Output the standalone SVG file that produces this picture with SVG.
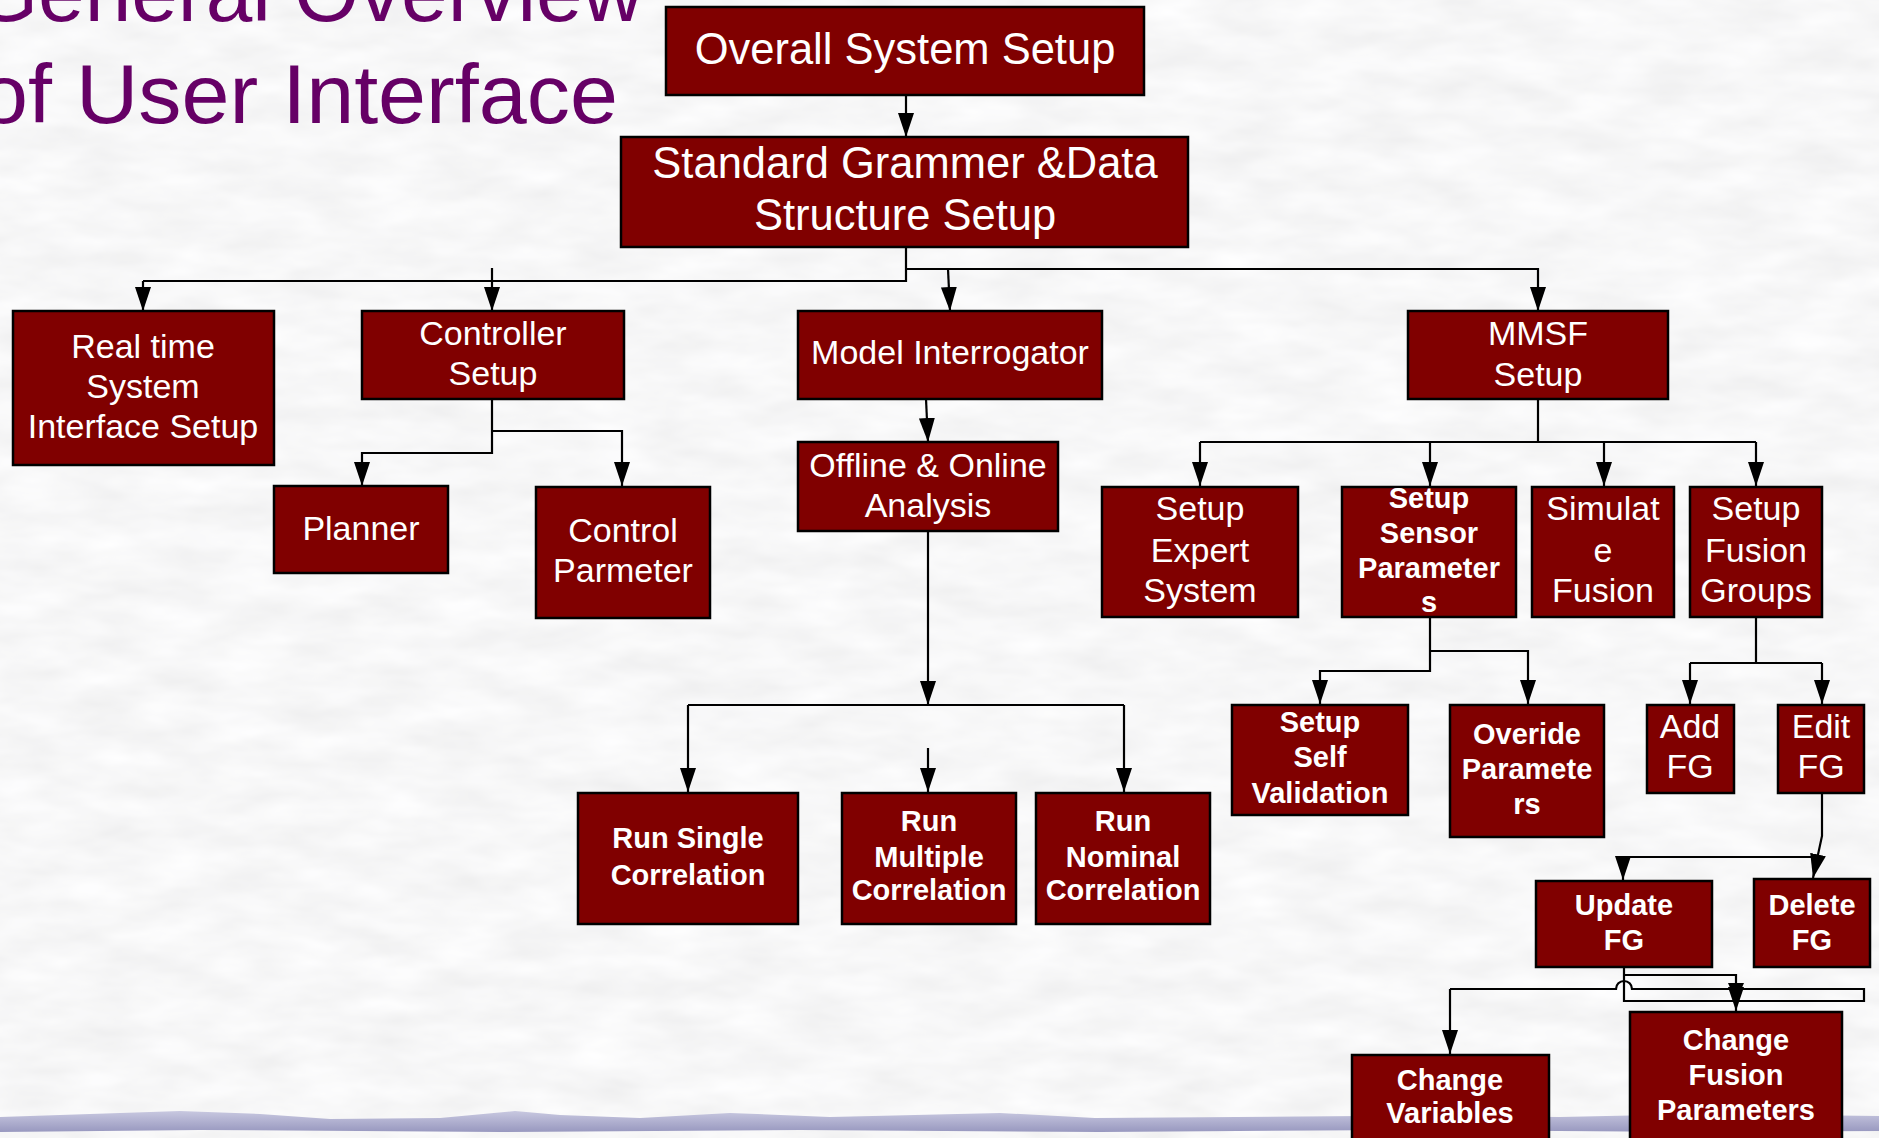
<svg xmlns="http://www.w3.org/2000/svg" width="1879" height="1138" viewBox="0 0 1879 1138">
  <defs>
    <filter id="paper" x="0" y="0" width="100%" height="100%">
      <feTurbulence type="fractalNoise" baseFrequency="0.014 0.04" numOctaves="3" seed="7" result="n"/>
      <feColorMatrix in="n" type="matrix" values="0.16 0 0 0 0.85  0.16 0 0 0 0.85  0.16 0 0 0 0.855  0 0 0 0 1"/>
    </filter>
    <linearGradient id="band" x1="0" y1="0" x2="0" y2="1">
      <stop offset="0" stop-color="#c8c8e0"/>
      <stop offset="1" stop-color="#9898bf"/>
    </linearGradient>
    <marker id="ah" viewBox="0 0 24 16" refX="24" refY="8" markerWidth="24" markerHeight="16" markerUnits="userSpaceOnUse" orient="auto">
      <path d="M0,0 L24,8 L0,16 Z" fill="#000"/>
    </marker>
    <style>
      .box { fill:#800000; stroke:#000; stroke-width:2.5; }
      .t { font-family:"Liberation Sans", Arial, sans-serif; fill:#fff; text-anchor:middle; }
      .big { font-size:43.5px; }
      .n { font-size:34px; }
      .b { font-size:29px; font-weight:bold; }
      .ln { fill:none; stroke:#000; stroke-width:2.2; }
      .arr { marker-end:url(#ah); }
      .title { font-family:"Liberation Sans", Arial, sans-serif; font-size:84px; fill:#660066; }
    </style>
  </defs>

  <!-- textured paper background -->
  <rect x="0" y="0" width="1879" height="1138" fill="#eeeeee"/>
  <rect x="0" y="0" width="1879" height="1138" filter="url(#paper)"/>

  <!-- wavy band along the bottom edge -->
  <path d="M0,1117 L60,1115 L180,1111 L260,1114 L330,1119 L440,1118 L515,1111 L560,1115 L640,1118 L730,1113 L830,1117 L1000,1113 L1095,1118 L1360,1116 L1560,1117 L1700,1114 L1879,1116 L1879,1131 L1700,1132 L1400,1130 L1100,1132 L800,1130 L500,1132 L200,1130 L0,1132 Z" fill="url(#band)"/>

  <!-- title -->
  <g id="title">
    <text class="title" x="-27" y="21" textLength="670" lengthAdjust="spacingAndGlyphs">General Overview</text>
    <text class="title" x="-20" y="123" textLength="638" lengthAdjust="spacingAndGlyphs">of User Interface</text>
  </g>

  <!-- connectors -->
  <g id="connectors">
    <path class="ln arr" d="M906,95 L906,137"/>
    <path class="ln" d="M906,247 L906,281 L143,281"/>
    <path class="ln arr" d="M143,281 L143,311"/>
    <path class="ln arr" d="M492,268 L492,311"/>
    <path class="ln arr" d="M906,269 L1538,269 L1538,311"/>
    <path class="ln arr" d="M948,269 L950,311"/>

    <path class="ln arr" d="M492,399 L492,453 L362,453 L362,486"/>
    <path class="ln arr" d="M492,431 L622,431 L622,486"/>

    <path class="ln arr" d="M926,399 L928,442"/>
    <path class="ln arr" d="M928,531 L928,705"/>
    <path class="ln" d="M688,705 L1124,705"/>
    <path class="ln arr" d="M688,705 L688,792"/>
    <path class="ln arr" d="M1124,705 L1124,792"/>
    <path class="ln arr" d="M928,748 L928,792"/>

    <path class="ln" d="M1538,399 L1538,442"/>
    <path class="ln" d="M1200,442 L1756,442"/>
    <path class="ln arr" d="M1200,442 L1200,486"/>
    <path class="ln arr" d="M1430,442 L1430,486"/>
    <path class="ln arr" d="M1604,442 L1604,486"/>
    <path class="ln arr" d="M1756,442 L1756,486"/>

    <path class="ln arr" d="M1430,617 L1430,671 L1320,671 L1320,704"/>
    <path class="ln arr" d="M1430,651 L1528,651 L1528,704"/>

    <path class="ln" d="M1756,617 L1756,663"/>
    <path class="ln" d="M1690,663 L1822,663"/>
    <path class="ln arr" d="M1690,663 L1690,704"/>
    <path class="ln arr" d="M1822,663 L1822,704"/>

    <path class="ln arr" d="M1822,793 L1822,836 L1813,878"/>
    <path class="ln" d="M1623,857 L1817,857"/>
    <path class="ln arr" d="M1623,857 L1623,880"/>

    <path class="ln" d="M1624,967 L1624,1001 L1864,1001 L1864,989 L1632,989 A8,8 0 0 0 1616,989 L1450,989"/>
    <path class="ln arr" d="M1450,989 L1450,1054"/>
    <path class="ln" d="M1624,975 L1736,975 L1736,990"/>
    <polygon points="1728,983 1744,983 1736,1001" fill="#000"/>
    <path class="ln arr" d="M1736,990 L1736,1011"/>
  </g>

  <!-- nodes -->
  <g id="overall-system-setup">
    <rect class="box" x="666" y="7" width="478" height="88"/>
    <text class="t big" x="905" y="64">Overall System Setup</text>
  </g>
  <g id="grammar-data-setup">
    <rect class="box" x="621" y="137" width="567" height="110"/>
    <text class="t big" x="905" y="178">Standard Grammer &amp;Data</text>
    <text class="t big" x="905" y="230">Structure Setup</text>
  </g>
  <g id="realtime-interface">
    <rect class="box" x="13" y="311" width="261" height="154"/>
    <text class="t n" x="143" y="358">Real time</text>
    <text class="t n" x="143" y="398">System</text>
    <text class="t n" x="143" y="438">Interface Setup</text>
  </g>
  <g id="controller-setup">
    <rect class="box" x="362" y="311" width="262" height="88"/>
    <text class="t n" x="493" y="345">Controller</text>
    <text class="t n" x="493" y="385">Setup</text>
  </g>
  <g id="planner">
    <rect class="box" x="274" y="486" width="174" height="87"/>
    <text class="t n" x="361" y="540">Planner</text>
  </g>
  <g id="control-parameter">
    <rect class="box" x="536" y="487" width="174" height="131"/>
    <text class="t n" x="623" y="542">Control</text>
    <text class="t n" x="623" y="582">Parmeter</text>
  </g>
  <g id="model-interrogator">
    <rect class="box" x="798" y="311" width="304" height="88"/>
    <text class="t n" x="950" y="364">Model Interrogator</text>
  </g>
  <g id="offline-online">
    <rect class="box" x="798" y="442" width="260" height="89"/>
    <text class="t n" x="928" y="477">Offline &amp; Online</text>
    <text class="t n" x="928" y="517">Analysis</text>
  </g>
  <g id="run-single">
    <rect class="box" x="578" y="793" width="220" height="131"/>
    <text class="t b" x="688" y="848">Run Single</text>
    <text class="t b" x="688" y="885">Correlation</text>
  </g>
  <g id="run-multiple">
    <rect class="box" x="842" y="793" width="174" height="131"/>
    <text class="t b" x="929" y="831">Run</text>
    <text class="t b" x="929" y="867">Multiple</text>
    <text class="t b" x="929" y="900">Correlation</text>
  </g>
  <g id="run-nominal">
    <rect class="box" x="1036" y="793" width="174" height="131"/>
    <text class="t b" x="1123" y="831">Run</text>
    <text class="t b" x="1123" y="867">Nominal</text>
    <text class="t b" x="1123" y="900">Correlation</text>
  </g>
  <g id="mmsf-setup">
    <rect class="box" x="1408" y="311" width="260" height="88"/>
    <text class="t n" x="1538" y="345">MMSF</text>
    <text class="t n" x="1538" y="386">Setup</text>
  </g>
  <g id="expert-system">
    <rect class="box" x="1102" y="487" width="196" height="130"/>
    <text class="t n" x="1200" y="520">Setup</text>
    <text class="t n" x="1200" y="562">Expert</text>
    <text class="t n" x="1200" y="602">System</text>
  </g>
  <g id="sensor-parameters">
    <rect class="box" x="1342" y="487" width="174" height="130"/>
    <text class="t b" x="1429" y="508">Setup</text>
    <text class="t b" x="1429" y="543">Sensor</text>
    <text class="t b" x="1429" y="578">Parameter</text>
    <text class="t b" x="1429" y="612">s</text>
  </g>
  <g id="simulate-fusion">
    <rect class="box" x="1532" y="487" width="142" height="130"/>
    <text class="t n" x="1603" y="520">Simulat</text>
    <text class="t n" x="1603" y="562">e</text>
    <text class="t n" x="1603" y="602">Fusion</text>
  </g>
  <g id="fusion-groups">
    <rect class="box" x="1690" y="487" width="132" height="130"/>
    <text class="t n" x="1756" y="520">Setup</text>
    <text class="t n" x="1756" y="562">Fusion</text>
    <text class="t n" x="1756" y="602">Groups</text>
  </g>
  <g id="self-validation">
    <rect class="box" x="1232" y="705" width="176" height="110"/>
    <text class="t b" x="1320" y="732">Setup</text>
    <text class="t b" x="1320" y="767">Self</text>
    <text class="t b" x="1320" y="803">Validation</text>
  </g>
  <g id="override-parameters">
    <rect class="box" x="1450" y="705" width="154" height="132"/>
    <text class="t b" x="1527" y="744">Overide</text>
    <text class="t b" x="1527" y="779">Paramete</text>
    <text class="t b" x="1527" y="814">rs</text>
  </g>
  <g id="add-fg">
    <rect class="box" x="1647" y="705" width="87" height="88"/>
    <text class="t n" x="1690" y="738">Add</text>
    <text class="t n" x="1690" y="778">FG</text>
  </g>
  <g id="edit-fg">
    <rect class="box" x="1778" y="705" width="86" height="88"/>
    <text class="t n" x="1821" y="738">Edit</text>
    <text class="t n" x="1821" y="778">FG</text>
  </g>
  <g id="update-fg">
    <rect class="box" x="1536" y="881" width="176" height="86"/>
    <text class="t b" x="1624" y="915">Update</text>
    <text class="t b" x="1624" y="950">FG</text>
  </g>
  <g id="delete-fg">
    <rect class="box" x="1754" y="879" width="116" height="88"/>
    <text class="t b" x="1812" y="915">Delete</text>
    <text class="t b" x="1812" y="950">FG</text>
  </g>
  <g id="change-variables">
    <rect class="box" x="1352" y="1055" width="197" height="100"/>
    <text class="t b" x="1450" y="1090">Change</text>
    <text class="t b" x="1450" y="1123">Variables</text>
  </g>
  <g id="change-fusion-parameters">
    <rect class="box" x="1630" y="1012" width="212" height="140"/>
    <text class="t b" x="1736" y="1050">Change</text>
    <text class="t b" x="1736" y="1085">Fusion</text>
    <text class="t b" x="1736" y="1120">Parameters</text>
  </g>
</svg>
